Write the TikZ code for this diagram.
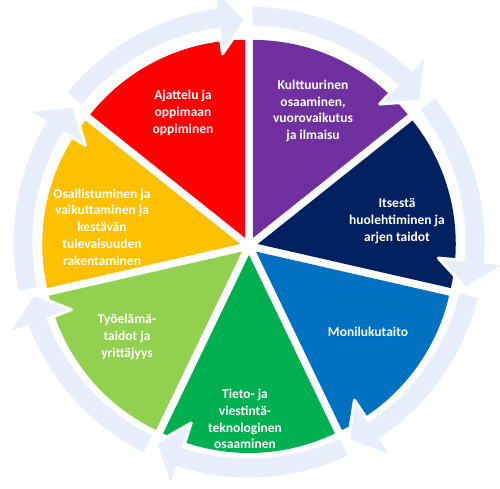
\documentclass[tikz,border=0pt]{standalone}
\usepackage{fontspec}
\setmainfont{Carlito}
\usepackage{tikz}

\definecolor{secred}{RGB}{255,0,0}
\definecolor{secpurple}{RGB}{112,48,160}
\definecolor{secnavy}{RGB}{0,32,96}
\definecolor{secblue}{RGB}{0,112,192}
\definecolor{secgreen}{RGB}{0,176,80}
\definecolor{seclime}{RGB}{146,208,80}
\definecolor{secorange}{RGB}{255,192,0}
\definecolor{ringblue}{RGB}{232,238,251}

\begin{document}
\begin{tikzpicture}[x=1pt,y=1pt,
        sectext/.style = {text=white,
        font=\bfseries\fontsize{13.5}{16.7}\selectfont,
        align=center},
        pics/wedge/.style args={#1 to #2 in #3}{code={
            \fill[#3,shift={({(#1+#2)/2}:9)}] (0,0) -- (#1:198)
                arc[start angle=#1,end angle=#2,radius=198] -- cycle;}},
        pics/ringpiece/.style args={#1 to #2}{code={
            \filldraw[fill=ringblue,draw=white,line width=3,line join=round]
                ({#1-0.5}:237) arc[start angle={#1-0.5},end angle={#2+8},radius=237]
                -- ({#2+8}:258) -- ({#2+0.8}:222) -- ({#2+8}:190) -- ({#2+8}:215)
                arc[start angle={#2+8},end angle={#1-0.5},radius=215] -- cycle;}}]

        \useasboundingbox (0,0) rectangle (500,-489);
        \clip (0,0) rectangle (500,-489);

        % Centres of the wheel and the ring
        \coordinate (wc) at (249,-246);
        \coordinate (ring) at (249,-242);

        % Coloured sectors
        \pic at (wc) {wedge=141.43 to 90 in secred};
        \pic at (wc) {wedge=90 to 38.57 in secpurple};
        \pic at (wc) {wedge=38.57 to -12.86 in secnavy};
        \pic at (wc) {wedge=-12.86 to -64.29 in secblue};
        \pic at (wc) {wedge=-64.29 to -115.71 in secgreen};
        \pic at (wc) {wedge=-115.71 to -167.14 in seclime};
        \pic at (wc) {wedge=-167.14 to -218.57 in secorange};

        % Ring arrows round the wheel
        \pic at (ring) {ringpiece=141.43 to 90};
        \pic at (ring) {ringpiece=90 to 38.57};
        \pic at (ring) {ringpiece=38.57 to -12.86};
        \pic at (ring) {ringpiece=-12.86 to -64.29};
        \pic at (ring) {ringpiece=-64.29 to -115.71};
        \pic at (ring) {ringpiece=-115.71 to -167.14};
        \pic at (ring) {ringpiece=-167.14 to -218.57};

        % Sector texts
        \node[sectext] (ajattelu) at (183,-113) {Ajattelu ja\\oppimaan\\oppiminen};
        \node[sectext] (kulttuuri) at (313,-111) {Kulttuurinen\\osaaminen,\\vuorovaikutus\\ja ilmaisu};
        \node[sectext] (itsesta) at (397,-221) {Itsestä\\huolehtiminen ja\\arjen taidot};
        \node[sectext] (moniluku) at (368,-332) {Monilukutaito};
        \node[sectext] (tieto) at (245,-419) {Tieto- ja\\viestintä-\\teknologinen\\osaaminen};
        \node[sectext] (tyoelama) at (127,-337) {Työelämä-\\taidot ja\\yrittäjyys};
        \node[sectext] (osallis) at (102,-227) {Osallistuminen ja\\vaikuttaminen ja\\kestävän\\tulevaisuuden\\rakentaminen};

    \end{tikzpicture}
\end{document}
